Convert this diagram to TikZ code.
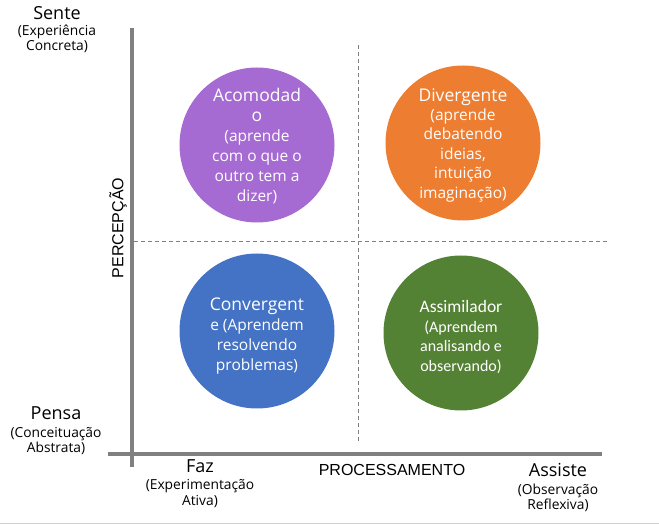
\documentclass[tikz,border=0pt]{standalone}
\usepackage{fontspec}
\setmainfont{Open Sans}
\newfontfamily\arialf{Liberation Sans}
\newfontfamily\calf{Carlito}
\definecolor{cpurple}{HTML}{A66BD3}
\definecolor{corange}{HTML}{ED7D31}
\definecolor{cblue}{HTML}{4472C4}
\definecolor{cgreen}{HTML}{548235}
\definecolor{axisgray}{HTML}{808080}
\begin{document}
\begin{tikzpicture}[x=1pt,y=-1pt,
  circ/.style={circle, minimum size=155pt, inner sep=0pt, draw=none},
  ctext/.style={text=white, align=center, inner sep=0pt},
  axisline/.style={draw=axisgray, line width=4pt},
  dash line/.style={draw=axisgray, line width=1pt, dash pattern=on 4pt off 3pt},
  lbl/.style={align=center, inner sep=0pt, text=black},
  lbltitle/.style={font=\fontsize{18}{20}\selectfont},
  lblsub/.style={font=\fontsize{13.8}{15.5}\selectfont}
]
\useasboundingbox (0,0) rectangle (659,526);
\fill[white] (0,0) rectangle (659,526);
\draw[draw=black!18, line width=1pt] (0,523) -- (659,523);

% axes
\coordinate (vtop) at (132,28);
\coordinate (vbot) at (132,467);
\coordinate (hleft) at (108,454);
\coordinate (hright) at (602,454);
\draw[axisline] (vtop) -- (vbot);
\draw[axisline] (hleft) -- (hright);

% dashed quadrant lines
\coordinate (dvt) at (358,45);
\coordinate (dvb) at (358,442);
\coordinate (dhl) at (134,242);
\coordinate (dhr) at (607,242);
\draw[dash line] (dvt) -- (dvb);
\draw[dash line] (dhl) -- (dhr);

% circles
\node[circ, fill=cpurple] (aco) at (257,145) {};
\node[circ, fill=corange] (div) at (463,143) {};
\node[circ, fill=cblue] (con) at (257,331) {};
\node[circ, fill=cgreen] (ass) at (461,333) {};

\node[ctext, font=\fontsize{15.5}{20}\selectfont] (acot) at (257,146)
  {{\fontsize{17.5}{20}\selectfont Acomodad}\\{\fontsize{17.5}{20}\selectfont o}\\(aprende\\com o que o\\outro tem a\\dizer)};
\node[ctext, font=\fontsize{15.5}{19.4}\selectfont] (divt) at (463,145)
  {{\fontsize{17.5}{19.4}\selectfont Divergente}\\(aprende\\debatendo\\ideias,\\intuição\\imaginação)};
\node[ctext, font=\fontsize{15.5}{20}\selectfont] (cont) at (257,336)
  {{\fontsize{17.5}{22}\selectfont Convergent}\\e (Aprendem\\resolvendo\\problemas)};
\node[ctext, font=\calf\fontsize{16}{19.5}\selectfont] (asst) at (461,337)
  {{\fontsize{17.5}{21}\selectfont Assimilador}\\(Aprendem\\analisando e\\observando)};

% axis labels
\node[lbl, lbltitle] (sente) at (57,13) {Sente};
\node[lbl, lblsub] (sentes) at (57,39) {(Experiência\\Concreta)};
\node[lbl, lbltitle] (pensa) at (56,413) {Pensa};
\node[lbl, lblsub] (pensas) at (56,441) {(Conceituação\\Abstrata)};
\node[lbl, lbltitle] (faz) at (200,466) {Faz};
\node[lbl, lblsub] (fazs) at (200,493.5) {(Experimentação\\Ativa)};
\node[lbl, font=\arialf\fontsize{16}{18}\selectfont] (proc) at (392,470) {PROCESSAMENTO};
\node[lbl, lbltitle] (assiste) at (558,470) {Assiste};
\node[lbl, lblsub] (assistes) at (558,498) {(Observação\\Reflexiva)};
\node[lbl, font=\arialf\fontsize{16}{18}\selectfont, rotate=90] (perc) at (118,228) {PERCEPÇÃO};
\end{tikzpicture}
\end{document}
